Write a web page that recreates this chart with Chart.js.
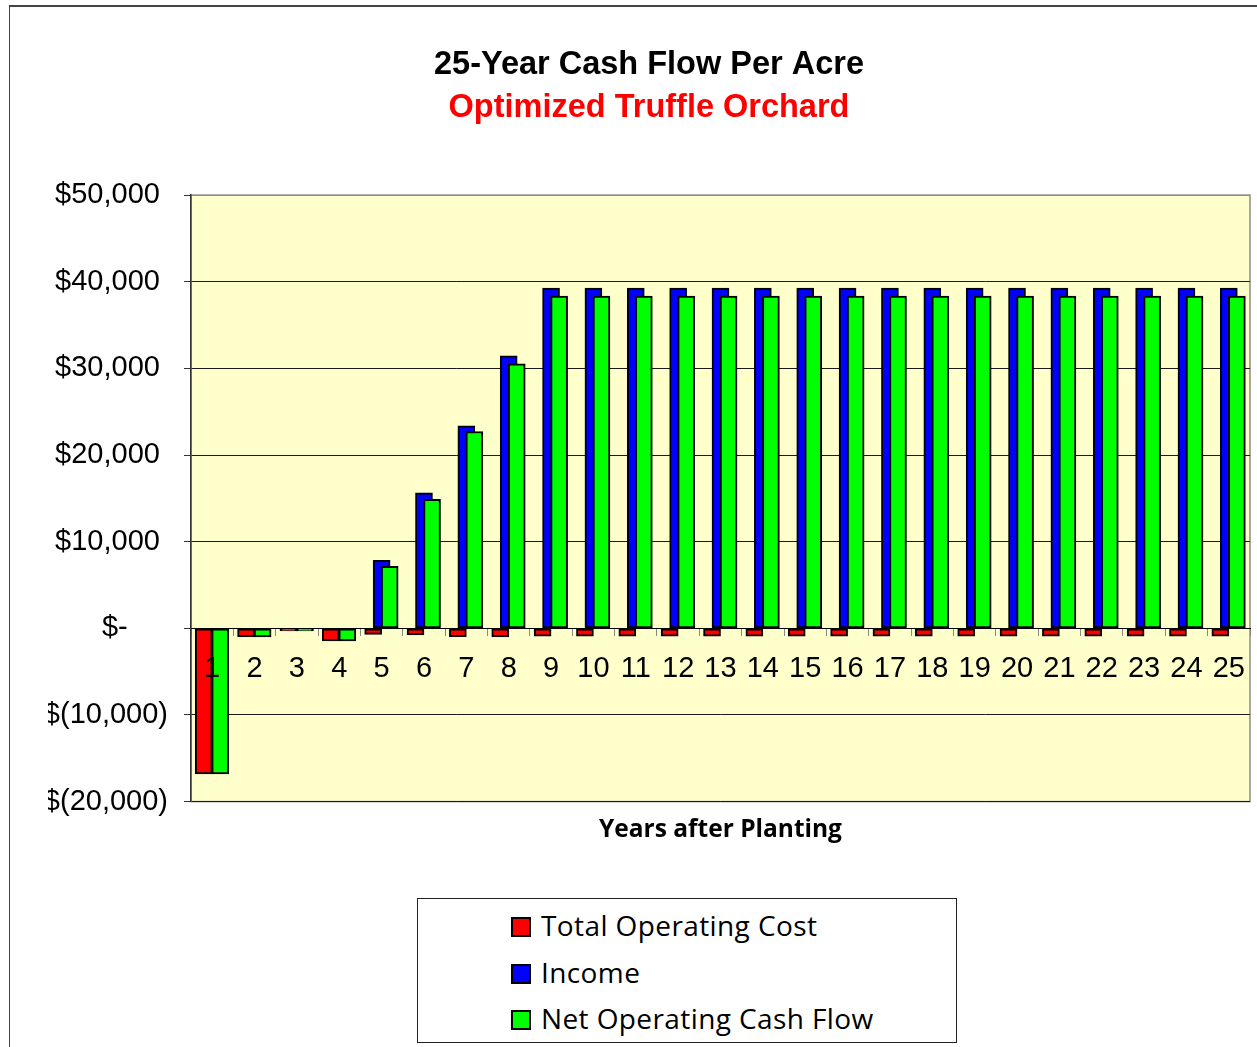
<!DOCTYPE html>
<html>
<head>
<meta charset="utf-8">
<script src="https://cdn.jsdelivr.net/npm/chart.js@4.4.1/dist/chart.umd.min.js"></script>
<style>
  html, body { margin: 0; padding: 0; background: #fff; overflow: hidden; }
  #frame { position: absolute; left: 9px; top: 5px; width: 1400px; height: 1100px;
           border-top: 2px solid #444; border-left: 1px solid #444; }
  #chart { position: absolute; left: 9px; top: 5px; }
  #legend { position: absolute; left: 417px; top: 898px; width: 538px; height: 143px;
            border: 1px solid #222; background: #fff; font-family: "Open Sans", sans-serif; font-size: 28px;
            letter-spacing: 0.4px; color: #000; }
  .item { position: absolute; left: 93px; height: 30px; line-height: 30px; white-space: nowrap; }
  .sw { display: inline-block; width: 16px; height: 16px; border: 2px solid #000; vertical-align: -1px; margin-right: 10px; }
</style>
</head>
<body>
<div id="frame"></div>
<canvas id="chart" width="1280" height="1042"></canvas>
<div id="legend"></div>
<script>
const years = [1, 2, 3, 4, 5, 6, 7, 8, 9, 10, 11, 12, 13, 14, 15, 16, 17, 18, 19, 20, 21, 22, 23, 24, 25];
const seriesNames = ['Total Operating Cost', 'Income', 'Net Operating Cash Flow'];
const operatingCost = [-16800, -1000, -300, -1450, -700, -770, -960, -1000, -920, -920, -920, -920, -920,
  -920, -920, -920, -920, -920, -920, -920, -920, -920, -920, -920, -920];
const income = [null, null, null, null, 7850, 15630, 23370, 31450, 39270, 39270, 39270, 39270, 39270,
  39270, 39270, 39270, 39270, 39270, 39270, 39270, 39270, 39270, 39270, 39270, 39270];
const netCashFlow = [-16800, -1000, -300, -1450, 7150, 14900, 22720, 30530, 38350, 38350, 38350, 38350, 38350,
  38350, 38350, 38350, 38350, 38350, 38350, 38350, 38350, 38350, 38350, 38350, 38350];
const yTicks = [-20000, -10000, 0, 10000, 20000, 30000, 40000, 50000];

const colors = ['#FF0000', '#0000FF', '#00FF00'];
// excel-style overlapping bars: each series shifted inside its year slot
const shift = [-0.2, 0, 0.19];
const drawOrder = [2, 1, 0];

function money(v) {
  if (v === 0) return '$-     ';
  const s = Math.abs(v).toLocaleString('en-US');
  return v < 0 ? '$(' + s + ')' : '$' + s + ' ';
}

const plotBg = {
  id: 'plotBg',
  beforeDraw(chart) {
    const { ctx, chartArea: a } = chart;
    ctx.save();
    ctx.fillStyle = '#FFFFCC';
    ctx.fillRect(a.left, a.top, a.right - a.left, a.bottom - a.top);
    ctx.strokeStyle = '#8c8c8c';
    ctx.lineWidth = 1.5;
    ctx.strokeRect(a.left, a.top, a.right - a.left, a.bottom - a.top);
    ctx.restore();
  }
};

const series = [operatingCost, income, netCashFlow];
const datasets = series.map((vals, i) => ({
  label: seriesNames[i],
  data: vals.map((v, j) => ({ x: years[j] + shift[i], y: v })),
  backgroundColor: colors[i],
  borderColor: '#000',
  borderWidth: 2,
  borderSkipped: false,
  barThickness: 17,
  grouped: false,
  order: drawOrder[i],
  xAxisID: 'x',
  yAxisID: 'y'
}));

const tickFont = { family: 'Liberation Sans, Arial, sans-serif', size: 29 };

new Chart(document.getElementById('chart'), {
  type: 'bar',
  data: { datasets },
  plugins: [plotBg],
  options: {
    responsive: false,
    animation: false,
    layout: { padding: { left: 39, right: 39, top: 0, bottom: 202 } },
    plugins: {
      legend: { display: false },
      tooltip: { enabled: false },
      title: {
        display: true,
        text: '25-Year Cash Flow Per Acre',
        color: '#000',
        font: { family: 'Liberation Sans, Arial, sans-serif', size: 32.5, weight: 'bold' },
        padding: { top: 40.5, bottom: 0 }
      },
      subtitle: {
        display: true,
        text: 'Optimized Truffle Orchard',
        color: '#FF0000',
        font: { family: 'Liberation Sans, Arial, sans-serif', size: 32.5, weight: 'bold' },
        padding: { top: 4, bottom: 67.6 }
      }
    },
    scales: {
      x: {
        type: 'linear',
        position: { y: 0 },
        min: 0.5,
        max: 25.5,
        offset: false,
        afterBuildTicks(scale) { scale.ticks = years.map(v => ({ value: v })); },
        ticks: {
          z: 1,
          autoSkip: false,
          maxRotation: 0,
          color: '#000',
          font: tickFont,
          padding: 16,
          callback: (v) => String(v)
        },
        grid: { offset: true, drawOnChartArea: false, tickLength: 7, color: '#888' },
        border: { color: '#000' }
      },
      x2: {
        type: 'linear',
        position: 'bottom',
        min: 0,
        max: 1,
        ticks: { display: false },
        grid: { display: false },
        border: { display: false },
        title: {
          display: true,
          text: 'Years after Planting',
          color: '#000',
          font: { family: '"Open Sans", sans-serif', size: 24.5, weight: 'bold' },
          padding: { top: 6, bottom: 0 }
        }
      },
      y: {
        min: -20000,
        max: 50000,
        afterFit(scale) { scale.width = 143; },
        afterBuildTicks(scale) { scale.ticks = yTicks.map(v => ({ value: v })); },
        ticks: {
          color: '#000',
          font: tickFont,
          padding: 16,
          callback: (v) => money(v)
        },
        grid: {
          color: (c) => (c.tick && c.tick.value === 50000 ? '#8c8c8c' : '#1a1a1a'),
          tickColor: '#333',
          tickLength: 7
        },
        border: { color: '#333', width: 1.5 }
      }
    }
  }
});

const legend = document.getElementById('legend');
seriesNames.forEach((name, i) => {
  const row = document.createElement('div');
  row.className = 'item';
  row.style.top = (11 + i * 46.5) + 'px';
  row.innerHTML = '<span class="sw" style="background:' + colors[i] + '"></span>' + name;
  legend.appendChild(row);
});
</script>
</body>
</html>
